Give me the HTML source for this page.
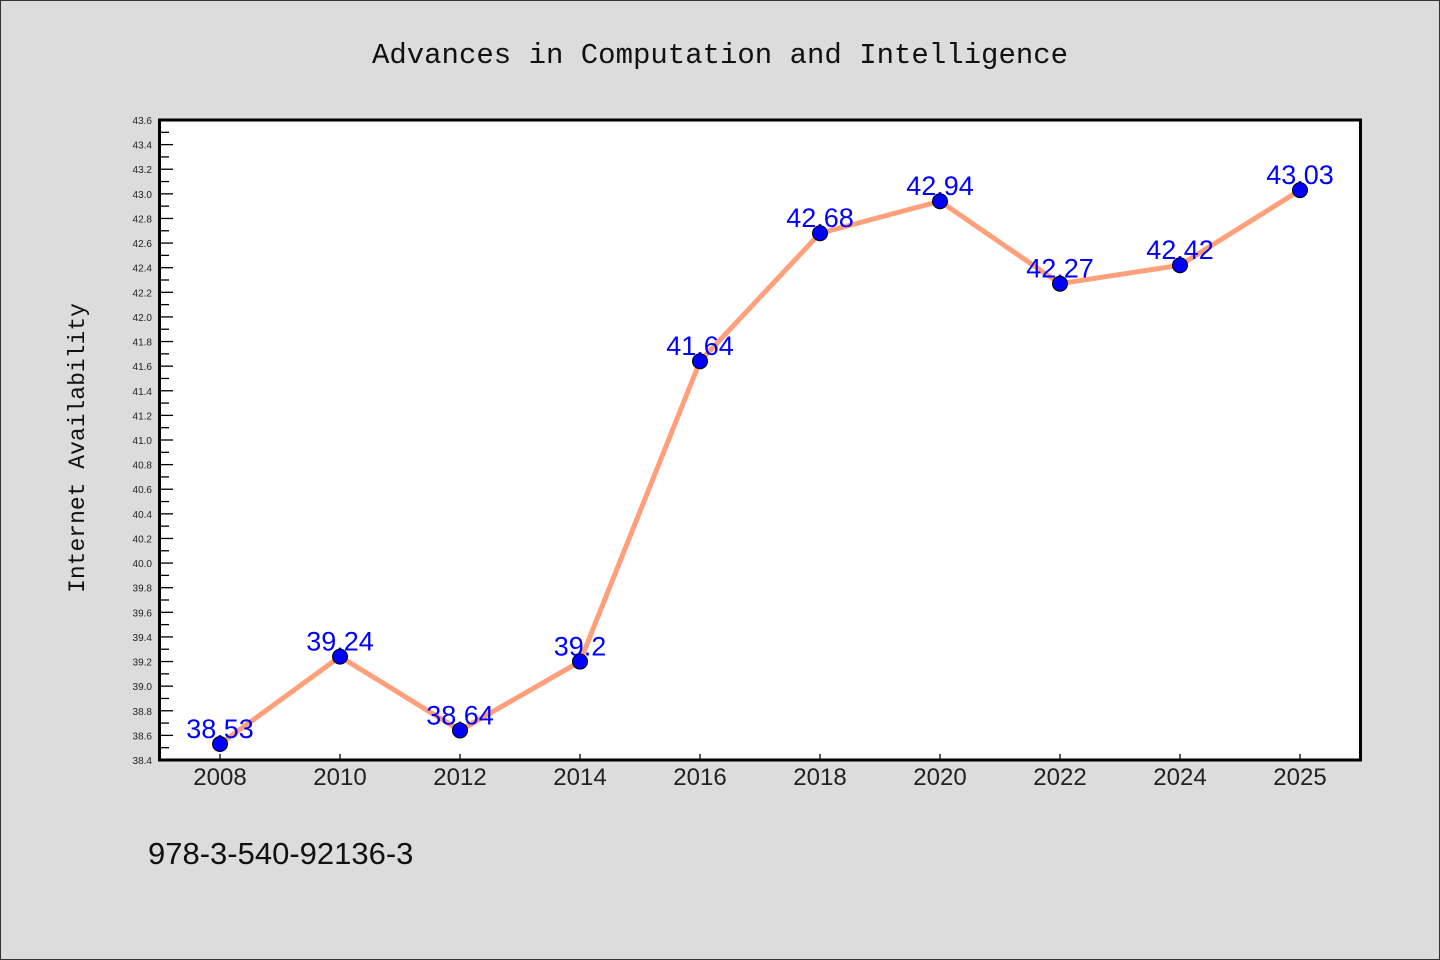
<!DOCTYPE html>
<html><head><meta charset="utf-8"><style>
html,body{margin:0;padding:0;background:#dcdcdc;}
svg{display:block;}
</style></head><body>
<svg id="chart" width="1440" height="960" xmlns="http://www.w3.org/2000/svg">
<rect x="0.5" y="0.5" width="1439" height="959" fill="#dcdcdc" stroke="#333" stroke-width="1"/>
<text x="720" y="63" text-anchor="middle" font-family="'Liberation Mono', 'DejaVu Sans Mono', monospace" font-size="29" fill="#111">Advances in Computation and Intelligence</text>
<rect x="159.5" y="120" width="1201" height="640" fill="#fff"/>
<g id="yaxis"></g>
<g id="xaxis"></g>
<g id="series"></g>
<rect x="159.5" y="120" width="1201" height="640" fill="none" stroke="#000" stroke-width="3"/>
<text transform="translate(84,448) rotate(-90)" text-anchor="middle" font-family="'Liberation Mono', 'DejaVu Sans Mono', monospace" font-size="23" fill="#111">Internet Availability</text>
<text x="148" y="864" font-family="'Liberation Sans', sans-serif" font-size="31" fill="#111">978-3-540-92136-3</text>
</svg>
<script>
const categories = ["2008","2010","2012","2014","2016","2018","2020","2022","2024","2025"];
const values = [38.53,39.24,38.64,39.2,41.64,42.68,42.94,42.27,42.42,43.03];
const labels = ["38.53","39.24","38.64","39.2","41.64","42.68","42.94","42.27","42.42","43.03"];
const yMin = 38.4, yMax = 43.6, yStep = 0.2;

const NS = "http://www.w3.org/2000/svg";
const L = 160, R = 1360, T = 120, B = 760;
function xPos(i){ return 220 + i * 120; }
function yPos(v){ return B - (v - yMin) / (yMax - yMin) * (B - T); }
function mk(tag, attrs, parent){ const e = document.createElementNS(NS, tag); for (const k in attrs) e.setAttribute(k, attrs[k]); parent.appendChild(e); return e; }

const ya = document.getElementById('yaxis');
const nT = Math.round((yMax - yMin) / yStep);
for (let k = 0; k <= nT; k++) {
  const v = yMin + k * yStep, y = yPos(v);
  const t = mk('line', {x1: L, x2: L + 13, y1: y, y2: y, stroke: '#000', 'stroke-width': 1.3}, ya);
  
  
  const lb = mk('text', {x: 152, y: y + 4, 'text-anchor': 'end', 'font-family': 'Liberation Sans, sans-serif', 'font-size': 10, fill: '#222'}, ya);
  
  
  lb.textContent = v.toFixed(1);
  if (k < nT) {
    const ym = yPos(v + yStep / 2);
    const m = mk('line', {x1: L, x2: L + 9, y1: ym, y2: ym, stroke: '#000', 'stroke-width': 1.3}, ya);
    
    
  }
}
const xa = document.getElementById('xaxis');
categories.forEach((c, i) => {
  const x = xPos(i);
  const t = mk('line', {x1: x, x2: x, y1: B, y2: B - 6, stroke: '#000', 'stroke-width': 1.3}, xa);
  
  
  const lb = mk('text', {x: x, y: 785, 'text-anchor': 'middle', 'font-family': 'Liberation Sans, sans-serif', 'font-size': 24, fill: '#222'}, xa);
  
  
  lb.textContent = c;
});
const sg = document.getElementById('series');
const pts = values.map((v, i) => xPos(i) + ',' + yPos(v)).join(' ');
const line = mk('polyline', {points: pts, fill: 'none', stroke: '#ffa07a', 'stroke-width': 5, 'stroke-linejoin': 'round'}, sg);


values.forEach((v, i) => {
  const x = xPos(i), y = yPos(v);
  const lb = mk('text', {x: x, y: y - 6, 'text-anchor': 'middle', 'font-family': 'Liberation Sans, sans-serif', 'font-size': 27, fill: '#0000ff'}, sg);
  
  
  lb.textContent = labels[i];
});
values.forEach((v, i) => {
  const c = mk('circle', {cx: xPos(i), cy: yPos(v), r: 7.5, fill: '#0000ff', stroke: '#000', 'stroke-width': 1}, sg);
  
  
});
</script>
</body></html>
